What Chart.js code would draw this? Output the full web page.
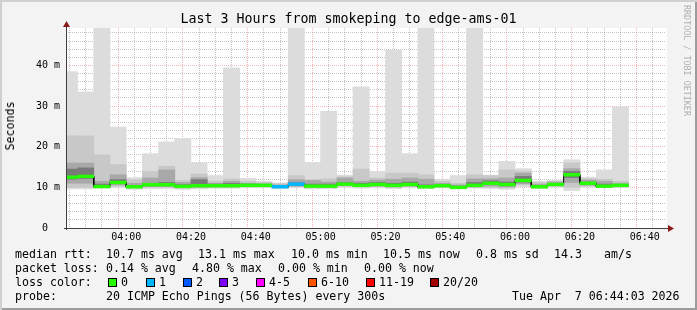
<!DOCTYPE html>
<html>
<head>
<meta charset="utf-8">
<script src="https://cdn.jsdelivr.net/npm/chart.js@4.4.1/dist/chart.umd.min.js"></script>
<style>
html, body { margin: 0; padding: 0; background: #f3f3f3; }
#frame {
    position: relative; width: 697px; height: 310px; overflow: hidden;
    background: #f3f3f3;
    box-shadow: inset 2px 2px 0 #d0d0d0, inset -2px -2px 0 #9c9c9c;
    font-family: "DejaVu Sans Mono", monospace; color: #000;
}
#c { position: absolute; left: 0; top: 0; }
.txt { position: absolute; white-space: pre; font-size: 11.6px; line-height: 14px; }
#title { position: absolute; left: 0; top: 11px; width: 697px; text-align: center; font-size: 13.3px; line-height: 16px; white-space: pre; }
#ylabel { position: absolute; left: 10px; top: 126px; font-size: 11.6px; line-height: 14px; transform: translate(-50%, -50%) rotate(-90deg); white-space: pre; }
#brand { position: absolute; left: 682px; top: 5px; writing-mode: vertical-rl; font-size: 8.4px; color: #b0b0b0; white-space: pre; }
.sq { position: absolute; width: 9px; height: 9px; box-sizing: border-box; border: 1px solid #000; }
</style>
</head>
<body>
<div id="frame">
    <canvas id="c" width="697" height="310"></canvas>
    <div id="title">Last 3 Hours from smokeping to edge-ams-01</div>
    <div id="ylabel">Seconds</div>
    <div id="brand">RRDTOOL / TOBI OETIKER</div>
    <div id="legend"></div>
</div>
<script>
// ---- data ----
const startTime = '03:44';
const spanMinutes = 180;

// start of each 5 minute step
const binStart = [
    '03:40', '03:45', '03:50', '03:55',
    '04:00', '04:05', '04:10', '04:15', '04:20', '04:25', '04:30', '04:35', '04:40', '04:45', '04:50', '04:55',
    '05:00', '05:05', '05:10', '05:15', '05:20', '05:25', '05:30', '05:35', '05:40', '05:45', '05:50', '05:55',
    '06:00', '06:05', '06:10', '06:15', '06:20', '06:25', '06:30'
];

// smoke levels in ms (lowest ping .. highest ping)
const pingMin     = [9.6, 9.6, 9.8, 9.9, 9.5, 9.7, 9.7, 9.5, 9.6, 9.8, 9.8, 9.9, 9.9, 9.7, 9.9, 9.6, 9.7, 10.0, 9.8, 9.9, 9.7, 9.9, 9.7, 9.9, 9.6, 9.8, 9.7, 9.5, 10.2, 9.7, 10.0, 9.2, 10.0, 9.9, 9.9];
const pingLow     = [10.0, 10.0, 10.0, 10.3, 9.8, 10.0, 10.0, 9.8, 9.9, 10.0, 10.0, 10.1, 10.1, 9.9, 10.2, 9.9, 10.0, 10.3, 10.1, 10.2, 10.0, 10.2, 9.9, 10.1, 9.8, 10.0, 10.0, 9.9, 10.6, 9.9, 10.3, 10.0, 10.3, 10.1, 10.1];
const pingQ25     = [11.0, 11.0, 10.0, 10.6, 9.9, 10.2, 10.2, 9.9, 10.0, 10.1, 10.1, 10.2, 10.2, 9.9, 10.3, 10.0, 10.0, 10.4, 10.2, 10.3, 10.1, 10.3, 9.9, 10.1, 9.8, 10.1, 10.3, 10.1, 10.9, 9.9, 10.4, 11.2, 10.5, 10.0, 10.2];
const pingCoreLow = [12.0, 12.2, 10.0, 10.9, 10.0, 10.4, 10.4, 10.0, 10.2, 10.2, 10.2, 10.3, 10.3, 10.0, 10.5, 10.1, 10.1, 10.6, 10.3, 10.5, 10.3, 10.5, 10.0, 10.2, 9.9, 10.3, 10.7, 10.4, 11.3, 10.0, 10.5, 12.4, 10.7, 10.1, 10.3];
const pingCore    = [14.5, 14.8, 10.8, 11.9, 10.5, 11.0, 11.2, 10.7, 11.9, 10.8, 11.0, 10.8, 10.7, 10.4, 11.2, 10.8, 10.8, 11.2, 11.0, 11.2, 11.0, 11.3, 10.6, 10.7, 10.3, 11.2, 11.6, 11.3, 12.7, 10.4, 11.0, 13.9, 11.3, 10.8, 10.7];
const pingQ75     = [16.0, 16.0, 11.5, 13.1, 11.0, 12.3, 14.3, 11.2, 12.4, 11.0, 11.5, 11.0, 10.9, 10.6, 11.9, 11.7, 11.3, 12.3, 11.5, 11.8, 12.0, 12.3, 12.0, 11.0, 10.6, 12.1, 12.1, 12.3, 13.5, 10.8, 11.3, 14.6, 11.8, 11.5, 11.0];
const pingQ90     = [22.7, 22.7, 18.0, 15.6, 11.9, 13.9, 15.2, 11.7, 13.3, 11.5, 12.1, 11.5, 11.2, 10.9, 12.9, 11.9, 12.1, 12.6, 14.5, 12.3, 13.5, 13.5, 13.1, 11.5, 11.0, 13.1, 12.9, 14.3, 14.0, 11.2, 11.5, 16.0, 12.1, 12.0, 11.5];
const pingMax     = [38.5, 33.5, 55.0, 24.8, 12.4, 18.3, 21.2, 22.0, 16.0, 12.9, 39.4, 12.2, 11.5, 11.1, 55.0, 16.1, 28.7, 13.0, 34.7, 13.9, 43.7, 18.3, 55.0, 12.0, 12.9, 55.0, 13.0, 16.4, 14.6, 11.5, 11.7, 16.8, 12.5, 14.3, 29.8];
const medianRtt   = [12.5, 12.7, 10.2, 11.2, 10.15, 10.65, 10.65, 10.25, 10.4, 10.4, 10.4, 10.5, 10.5, 10.15, 10.8, 10.3, 10.3, 10.8, 10.5, 10.7, 10.5, 10.7, 10.15, 10.4, 10.0, 10.5, 11.0, 10.7, 11.7, 10.15, 10.7, 13.1, 11.0, 10.3, 10.5];
const lostPings   = [0, 0, 0, 0, 0, 0, 0, 0, 0, 0, 0, 0, 0, 1, 1, 0, 0, 0, 0, 0, 0, 0, 0, 0, 0, 0, 0, 0, 0, 0, 0, 0, 0, 0, 0];

const lossLabels = ['0', '1', '2', '3', '4-5', '6-10', '11-19', '20/20'];
const lossColors = ['#26ff00', '#00b8ff', '#0059ff', '#7e00ff', '#ff00ff', '#ff5500', '#ff0000', '#a10000'];

const xTickLabels = ['04:00', '04:20', '04:40', '05:00', '05:20', '05:40', '06:00', '06:20', '06:40'];
const yTickValues = [0, 10, 20, 30, 40];
const yMax = 49.2;

// ---- helpers ----
function toMinutes(hhmm) {
    const [h, m] = hhmm.split(':').map(Number);
    const [h0, m0] = startTime.split(':').map(Number);
    return (h * 60 + m) - (h0 * 60 + m0);
}

function lossIndex(n) {
    if (n <= 3) return n;
    if (n <= 5) return 4;
    if (n <= 10) return 5;
    if (n <= 19) return 6;
    return 7;
}

const majorMinutes = xTickLabels.map(toMinutes);
const GRID_GREY = 'rgba(150,150,150,0.55)';
const GRID_RED = 'rgba(230,110,110,0.5)';

function band(lo, hi) {
    return binStart.map((s, i) => ({ x: toMinutes(s) + 2.5, y: [lo[i], hi[i]] }));
}

const medianSteps = [];
binStart.forEach((s, i) => {
    medianSteps.push({ x: toMinutes(s), y: medianRtt[i] });
    medianSteps.push({ x: toMinutes(s) + 5, y: medianRtt[i] });
});

const barCommon = { type: 'bar', grouped: false, barPercentage: 1, categoryPercentage: 1, borderWidth: 0 };

// ---- plugins ----
const plotBackground = {
    id: 'plotBackground',
    beforeDraw(chart) {
        const a = chart.chartArea, ctx = chart.ctx;
        ctx.save();
        ctx.fillStyle = '#ffffff';
        ctx.fillRect(a.left, a.top, a.right - a.left + 1, a.bottom - a.top);
        ctx.restore();
    }
};

const axisArrows = {
    id: 'axisArrows',
    afterDraw(chart) {
        const a = chart.chartArea, ctx = chart.ctx;
        const x0 = a.left + 0.5, y0 = a.bottom + 0.5;
        ctx.save();
        ctx.strokeStyle = '#404040';
        ctx.lineWidth = 1;
        ctx.beginPath();
        ctx.moveTo(a.left - 2, y0);
        ctx.lineTo(a.right + 4, y0);
        ctx.moveTo(x0, a.bottom + 2);
        ctx.lineTo(x0, a.top - 3);
        ctx.stroke();
        ctx.fillStyle = '#8b1a1a';
        ctx.beginPath();
        ctx.moveTo(a.right + 2, y0 - 3.5);
        ctx.lineTo(a.right + 2, y0 + 3.5);
        ctx.lineTo(a.right + 8, y0);
        ctx.closePath();
        ctx.fill();
        ctx.beginPath();
        ctx.moveTo(x0 - 3.5, a.top - 1);
        ctx.lineTo(x0 + 3.5, a.top - 1);
        ctx.lineTo(x0, a.top - 7);
        ctx.closePath();
        ctx.fill();
        ctx.restore();
    }
};

// ---- chart ----
new Chart(document.getElementById('c').getContext('2d'), {
    type: 'bar',
    data: {
        datasets: [
            { ...barCommon, label: 'max', data: band(pingMin, pingMax), backgroundColor: '#dcdcdc', order: 6 },
            { ...barCommon, label: 'q90', data: band(pingLow, pingQ90), backgroundColor: '#c8c8c8', order: 5 },
            { ...barCommon, label: 'q75', data: band(pingQ25, pingQ75), backgroundColor: '#a8a8a8', order: 4 },
            { ...barCommon, label: 'core', data: band(pingCoreLow, pingCore), backgroundColor: '#7a7a7a', order: 3 },
            {
                type: 'line', label: 'median', data: medianSteps, borderColor: '#000000',
                borderWidth: 1, pointRadius: 0, tension: 0, order: 2
            },
            {
                ...barCommon, label: 'loss',
                data: binStart.map((s, i) => ({ x: toMinutes(s) + 2.5, y: [medianRtt[i] - 0.34, medianRtt[i] + 0.34] })),
                backgroundColor: lostPings.map(n => lossColors[lossIndex(n)]),
                order: 1
            }
        ]
    },
    options: {
        responsive: false,
        animation: false,
        devicePixelRatio: 1,
        layout: { padding: { left: 0, right: 31, top: 28, bottom: 0 } },
        plugins: { legend: { display: false }, tooltip: { enabled: false }, title: { display: false } },
        scales: {
            x: {
                type: 'linear', min: 0, max: spanMinutes, z: 1,
                afterBuildTicks: (scale) => {
                    const t = [];
                    for (let m = 1; m <= spanMinutes; m += 5) t.push({ value: m });
                    scale.ticks = t;
                },
                afterFit: (scale) => { scale.height = 82; },
                grid: {
                    drawTicks: false,
                    color: (ctx) => (ctx.tick && majorMinutes.includes(ctx.tick.value)) ? GRID_RED : GRID_GREY
                },
                border: { display: false, dash: [1, 1] },
                ticks: {
                    autoSkip: false, maxRotation: 0, padding: 3, color: '#000',
                    font: { family: 'DejaVu Sans Mono', size: 10 },
                    callback: (v) => {
                        const i = majorMinutes.indexOf(v);
                        return i >= 0 ? xTickLabels[i] : '';
                    }
                }
            },
            y: {
                type: 'linear', min: 0, max: yMax, z: 1,
                afterBuildTicks: (scale) => {
                    const t = [];
                    for (let v = 0; v < yMax; v += 2) t.push({ value: v });
                    scale.ticks = t;
                },
                afterFit: (scale) => { scale.width = 66; },
                grid: {
                    drawTicks: false,
                    color: (ctx) => (ctx.tick && yTickValues.includes(ctx.tick.value)) ? GRID_RED : GRID_GREY
                },
                border: { display: false, dash: [1, 1] },
                ticks: {
                    autoSkip: false, padding: 6, color: '#000',
                    font: { family: 'DejaVu Sans Mono', size: 10 },
                    callback: (v) => {
                        if (!yTickValues.includes(v)) return '';
                        return v === 0 ? '0  ' : v + ' m';
                    }
                }
            }
        }
    },
    plugins: [plotBackground, axisArrows]
});

// ---- text legend under the plot ----
const legendRows = [
    { top: 247, parts: [[16, 'median rtt:'], [107, '10.7 ms avg'], [199, '13.1 ms max'], [292, '10.0 ms min'], [384, '10.5 ms now'], [477, '0.8 ms sd'], [555, '14.3'], [605, 'am/s']] },
    { top: 261, parts: [[16, 'packet loss:'], [107, '0.14 % avg'], [193, '4.80 % max'], [279, '0.00 % min'], [365, '0.00 % now']] },
    { top: 275, parts: [[16, 'loss color:']] },
    { top: 289, parts: [[16, 'probe:'], [107, '20 ICMP Echo Pings (56 Bytes) every 300s'], [513, 'Tue Apr  7 06:44:03 2026']] }
];
const swatchX = [108, 146, 183, 219, 256, 308, 366, 430];

const legend = document.getElementById('legend');
legendRows.forEach(row => {
    row.parts.forEach(([x, text]) => {
        const d = document.createElement('div');
        d.className = 'txt';
        d.style.left = (x - 1) + 'px';
        d.style.top = row.top + 'px';
        d.textContent = text;
        legend.appendChild(d);
    });
});
lossLabels.forEach((lab, i) => {
    const sq = document.createElement('div');
    sq.className = 'sq';
    sq.style.left = swatchX[i] + 'px';
    sq.style.top = '278px';
    sq.style.background = lossColors[i];
    legend.appendChild(sq);
    const t = document.createElement('div');
    t.className = 'txt';
    t.style.left = (swatchX[i] + 13) + 'px';
    t.style.top = '275px';
    t.textContent = lab;
    legend.appendChild(t);
});
</script>
</body>
</html>
